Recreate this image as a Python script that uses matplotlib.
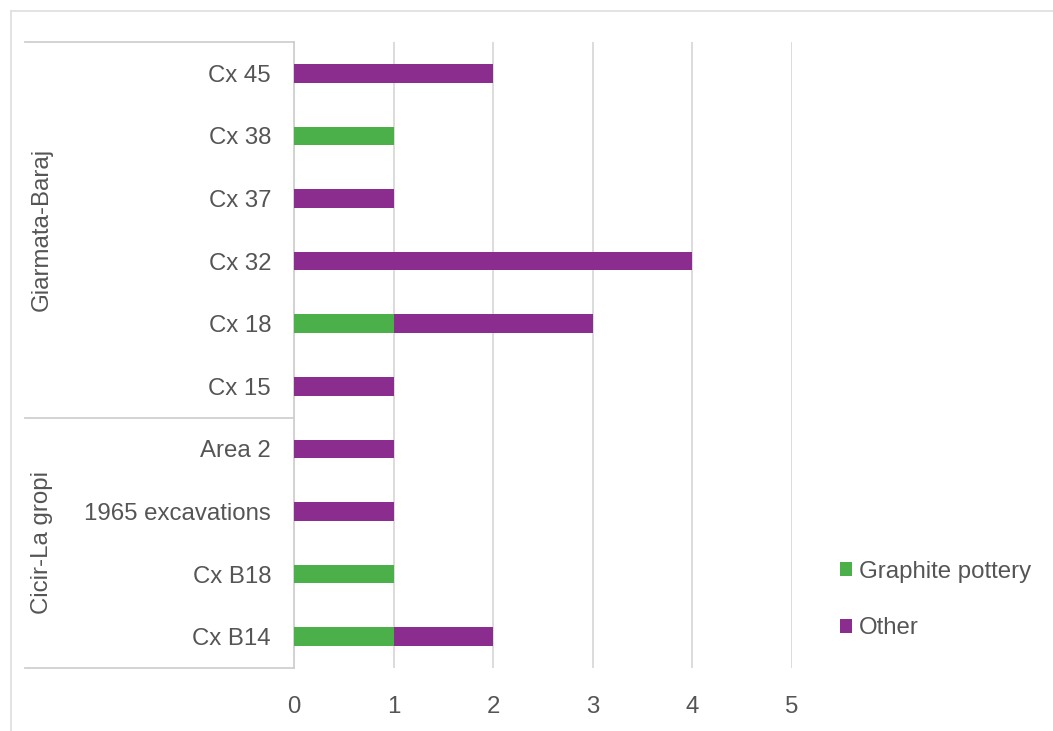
import matplotlib
matplotlib.use("Agg")
import matplotlib.pyplot as plt
from matplotlib.patches import Patch
from matplotlib.lines import Line2D
from matplotlib.transforms import blended_transform_factory

# ---- data (bottom to top) ----
categories = ["Cx B14", "Cx B18", "1965 excavations", "Area 2",
              "Cx 15", "Cx 18", "Cx 32", "Cx 37", "Cx 38", "Cx 45"]
groups = ["Cicir-La gropi", "Giarmata-Baraj"]
group_sizes = [4, 6]
graphite = [1, 1, 0, 0, 0, 1, 0, 0, 1, 0]
other = [1, 0, 1, 1, 1, 2, 4, 1, 0, 2]
xticks = [0, 1, 2, 3, 4, 5]
series_names = ["Graphite pottery", "Other"]

GREEN = "#4cb04a"
PURPLE = "#8b2d8f"
TXT = "#555555"
GRID = "#d9d9d9"
LINE = "#d0d0d0"

plt.rcParams["font.family"] = ["Liberation Sans", "DejaVu Sans"]
FS = 17.3

W, H = 1053, 731
fig = plt.figure(figsize=(W / 100, H / 100), dpi=100)
ax = fig.add_axes([294 / W, (H - 668) / H, (792 - 294) / W, (668 - 42) / H])

y = list(range(len(categories)))
ax.barh(y, graphite, height=0.3, color=GREEN, zorder=3)
ax.barh(y, other, left=graphite, height=0.3, color=PURPLE, zorder=3)

ax.set_xlim(0, 5)
ax.set_ylim(-0.5, len(categories) - 0.5)
ax.set_xticks(xticks)
ax.set_xticklabels([str(t) for t in xticks])
ax.set_yticks(y)
ax.set_yticklabels(categories)
ax.tick_params(axis="both", length=0, labelsize=FS, colors=TXT)
ax.tick_params(axis="y", pad=16.5)
ax.tick_params(axis="x", pad=20.5)
ax.grid(axis="x", color=GRID, linewidth=1.3, zorder=0)
for s in ["top", "right", "bottom"]:
    ax.spines[s].set_visible(False)
ax.spines["left"].set_color(LINE)
ax.spines["left"].set_linewidth(1.3)

# group separators and labels
tr = blended_transform_factory(fig.transFigure, ax.transData)
x0, x1 = 25 / W, 294 / W
bounds = [-0.5]
for n in group_sizes:
    bounds.append(bounds[-1] + n)
for b in bounds:
    ax.add_line(Line2D([x0, x1], [b, b], transform=tr, color=LINE,
                       linewidth=1.3, clip_on=False))
for g, lo, hi in zip(groups, bounds[:-1], bounds[1:]):
    ax.text(42 / W, (lo + hi) / 2, g, transform=tr, rotation=90,
            ha="center", va="center", fontsize=FS, color=TXT)

# outer frame (top and left borders)
fig.add_artist(Line2D([11 / W, 1], [1 - 11 / H, 1 - 11 / H],
                      transform=fig.transFigure, color="#e0e0e0", linewidth=1.3))
fig.add_artist(Line2D([11 / W, 11 / W], [0, 1 - 11 / H],
                      transform=fig.transFigure, color="#e0e0e0", linewidth=1.3))

handles = [Patch(facecolor=GREEN, edgecolor="none"),
           Patch(facecolor=PURPLE, edgecolor="none")]
fig.legend(handles, series_names, loc="center left",
           bbox_to_anchor=(840 / W, (H - 600) / H), frameon=False,
           fontsize=FS, labelcolor=TXT, handlelength=0.5, handleheight=0.5,
           handletextpad=0.3, labelspacing=1.45, borderpad=0, borderaxespad=0)

fig.savefig("out.png", dpi=100, facecolor="white")
